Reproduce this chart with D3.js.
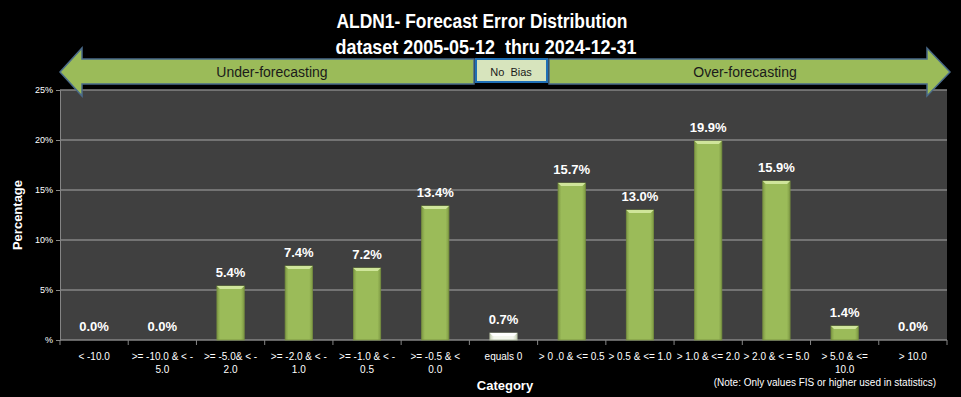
<!DOCTYPE html>
<html>
<head>
<meta charset="utf-8">
<script src="https://cdn.jsdelivr.net/npm/d3@7"></script>
<style>
body { margin: 0; background: #000; }
text { font-family: "Liberation Sans Narrow", "Liberation Sans", sans-serif; }
</style>
</head>
<body>
<div id="chart-area"></div>
<script>
var categories = ["< -10.0", ">= -10.0 & < -|5.0", ">= -5.0& < -|2.0", ">= -2.0 & < -|1.0",
	">= -1.0 & < -|0.5", ">= -0.5 & <|0.0", "equals 0", "> 0 .0 & <= 0.5", "> 0.5 & <= 1.0",
	"> 1.0 & <= 2.0", "> 2.0 & < = 5.0", "> 5.0 & <=|10.0", "> 10.0"];
var values = [0.0, 0.0, 5.4, 7.4, 7.2, 13.4, 0.7, 15.7, 13.0, 19.9, 15.9, 1.4, 0.0];
var yTicks = [0, 5, 10, 15, 20, 25];

var width = 961, height = 397;
var margin = {top: 90, right: 14, bottom: 57, left: 60};
var pw = width - margin.left - margin.right;
var ph = height - margin.top - margin.bottom;

var svg = d3.select("#chart-area").append("svg")
	.attr("width", width)
	.attr("height", height)
	.style("background", "#000");

var defs = svg.append("defs");
var gGreen = defs.append("linearGradient").attr("id", "barGreen");
gGreen.append("stop").attr("offset", "0%").attr("stop-color", "#7f9a45");
gGreen.append("stop").attr("offset", "12%").attr("stop-color", "#9bbb59");
gGreen.append("stop").attr("offset", "88%").attr("stop-color", "#9bbb59");
gGreen.append("stop").attr("offset", "100%").attr("stop-color", "#7f9a45");
var gWhite = defs.append("linearGradient").attr("id", "barWhite");
gWhite.append("stop").attr("offset", "0%").attr("stop-color", "#c9d3b8");
gWhite.append("stop").attr("offset", "15%").attr("stop-color", "#f4f7ee");
gWhite.append("stop").attr("offset", "85%").attr("stop-color", "#f4f7ee");
gWhite.append("stop").attr("offset", "100%").attr("stop-color", "#c9d3b8");

// title
svg.append("text").attr("x", 482).attr("y", 28)
	.attr("text-anchor", "middle").attr("font-size", "20px").attr("font-weight", "bold")
	.attr("textLength", 291).attr("lengthAdjust", "spacingAndGlyphs")
	.style("fill", "white").text("ALDN1- Forecast Error Distribution");
svg.append("text").attr("x", 486).attr("y", 54)
	.attr("text-anchor", "middle").attr("font-size", "20px").attr("font-weight", "bold")
	.attr("textLength", 301).attr("lengthAdjust", "spacingAndGlyphs")
	.style("fill", "white").attr("xml:space", "preserve").text("dataset 2005-05-12  thru 2024-12-31");

var g = svg.append("g")
	.attr("transform", "translate(" + margin.left + ", " + margin.top + ")");

g.append("rect").attr("width", pw).attr("height", ph).attr("fill", "#404040");

var x = d3.scaleBand().range([0, pw]).domain(categories).paddingInner(0.6).paddingOuter(0.3);
var y = d3.scaleLinear().range([ph, 0]).domain([0, 25]);

// gridlines
g.selectAll(".grid").data(yTicks.filter(function(d){ return d > 0; }))
	.enter().append("line")
	.attr("x1", 0).attr("x2", pw)
	.attr("y1", function(d){ return y(d); }).attr("y2", function(d){ return y(d); })
	.attr("stroke", "#858585").attr("stroke-width", 1.5);

var yAxis = d3.axisLeft(y).tickValues(yTicks).tickSize(4)
	.tickFormat(function(d){ return d === 0 ? "%" : d + "%"; });
var ya = g.append("g").call(yAxis);
ya.select(".domain").attr("stroke", "#858585");
ya.selectAll(".tick line").attr("stroke", "#858585");
ya.selectAll("text").style("fill", "white").attr("font-size", "9px")
	.style("font-family", "'Liberation Sans Narrow', sans-serif");

// x axis baseline + boundary ticks
var step = x.step();
var bounds = d3.range(categories.length + 1);
g.append("line").attr("x1", 0).attr("x2", pw).attr("y1", ph).attr("y2", ph)
	.attr("stroke", "#858585").attr("stroke-width", 1.5);
g.selectAll(".xt").data(bounds).enter().append("line")
	.attr("x1", function(d){ return x(categories[0]) - x.bandwidth() * 0.75 + d * step; })
	.attr("x2", function(d){ return x(categories[0]) - x.bandwidth() * 0.75 + d * step; })
	.attr("y1", ph).attr("y2", ph + 5)
	.attr("stroke", "#858585");

var xl = g.selectAll(".xl").data(categories).enter().append("text")
	.attr("x", function(d){ return x(d) + x.bandwidth() / 2; })
	.attr("y", ph + 20)
	.attr("text-anchor", "middle").attr("font-size", "10px")
	.style("fill", "white").attr("xml:space", "preserve");
xl.each(function(d) {
	var parts = d.split("|");
	var t = d3.select(this);
	parts.forEach(function(p, i) {
		t.append("tspan").attr("x", t.attr("x")).attr("dy", i === 0 ? 0 : 13).text(p);
	});
});

// bars
var bars = g.selectAll(".bar").data(values).enter().append("g");
bars.append("rect")
	.attr("x", function(d, i){ return x(categories[i]); })
	.attr("y", function(d){ return y(d); })
	.attr("width", x.bandwidth())
	.attr("height", function(d){ return ph - y(d); })
	.attr("fill", function(d, i){ return categories[i] === "equals 0" ? "url(#barWhite)" : "url(#barGreen)"; })
	.attr("stroke", function(d, i){ return categories[i] === "equals 0" ? "#a9b39a" : "#77903f"; })
	.attr("stroke-width", 0.8)
	.style("display", function(d){ return d > 0 ? null : "none"; });
bars.append("polygon")
	.attr("points", function(d, i) {
		var x0 = x(categories[i]), x1 = x0 + x.bandwidth(), y0 = y(d), b = 3;
		return [[x0, y0], [x1, y0], [x1 - b, y0 + b], [x0 + b, y0 + b]].join(" ");
	})
	.attr("fill", function(d, i){ return categories[i] === "equals 0" ? "#ffffff" : "#cfe59a"; })
	.style("display", function(d){ return d > 0 ? null : "none"; });

bars.append("text")
	.attr("x", function(d, i){ return x(categories[i]) + x.bandwidth() / 2; })
	.attr("y", function(d){ return y(d) - 9; })
	.attr("text-anchor", "middle").attr("font-size", "13px").attr("font-weight", "bold")
	.style("fill", "white")
	.text(function(d){ return d.toFixed(1) + "%"; });

// axis titles
svg.append("text")
	.attr("transform", "translate(22," + (margin.top + ph / 2) + ") rotate(-90)")
	.attr("text-anchor", "middle").attr("font-size", "13px").attr("font-weight", "bold")
	.style("fill", "white").text("Percentage");
svg.append("text").attr("x", 505).attr("y", 390)
	.attr("text-anchor", "middle").attr("font-size", "13px").attr("font-weight", "bold")
	.style("fill", "white").text("Category");
svg.append("text").attr("x", 936).attr("y", 386)
	.attr("text-anchor", "end").attr("font-size", "10px")
	.style("fill", "white").text("(Note: Only values FIS or higher used in statistics)");

// bias arrows
var arrows = svg.append("g");
arrows.append("path")
	.attr("d", "M474,59 L82,59 L82,48 L60,72 L82,96 L82,84 L474,84 Z")
	.attr("fill", "#9bbb59").attr("stroke", "#4a6b8a").attr("stroke-width", 1.5);
arrows.append("path")
	.attr("d", "M549,59 L927,59 L927,48 L950,72 L927,96 L927,84 L549,84 Z")
	.attr("fill", "#9bbb59").attr("stroke", "#4a6b8a").attr("stroke-width", 1.5);
arrows.append("rect").attr("x", 476).attr("y", 59).attr("width", 71).attr("height", 23)
	.attr("fill", "#d7e4bd").attr("stroke", "#1f6fb5").attr("stroke-width", 2);
arrows.append("text").attr("x", 272).attr("y", 77).attr("text-anchor", "middle")
	.attr("font-size", "14px").style("fill", "#1a1a1a").text("Under-forecasting");
arrows.append("text").attr("x", 745).attr("y", 77).attr("text-anchor", "middle")
	.attr("font-size", "14px").style("fill", "#1a1a1a").text("Over-forecasting");
arrows.append("text").attr("x", 511).attr("y", 76).attr("text-anchor", "middle")
	.attr("font-size", "11px").style("fill", "#1a1a1a").attr("xml:space", "preserve").text("No  Bias");
</script>
</body>
</html>
